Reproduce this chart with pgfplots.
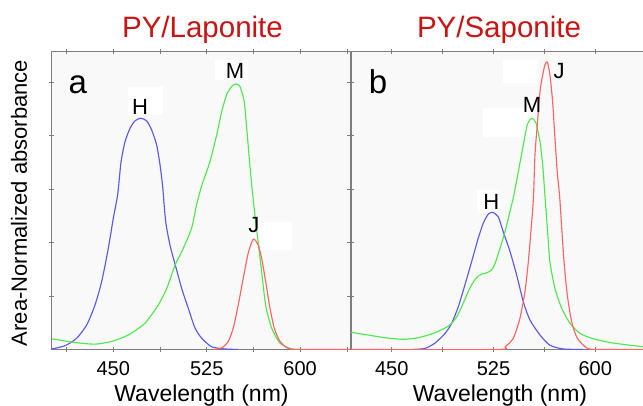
\documentclass[border=0pt]{standalone}
\usepackage{pgfplots}
\pgfplotsset{compat=1.18}
\usepackage{fontspec}
\setmainfont{Liberation Sans}

\definecolor{hcol}{RGB}{90,90,240}
\definecolor{mcol}{RGB}{80,232,80}
\definecolor{jcol}{RGB}{255,100,100}
\definecolor{titlered}{RGB}{200,20,20}
\definecolor{frame}{RGB}{125,125,125}
\definecolor{plotbg}{RGB}{249,249,249}

\pgfplotsset{
  panel/.style={
    scale only axis, anchor=south west, height=298pt,
    ymin=0, ymax=5.566,
    axis background/.style={fill=plotbg},
    axis line style={draw=frame, line width=0.9pt},
    xtick={450,525,600}, minor xtick={412.5,487.5,562.5,637.5},
    ytick={1,2,3,4,5}, yticklabels={},
    tick align=center, major tick length=5pt, minor tick length=5pt,
    every tick/.style={frame, line width=0.6pt},
    tick label style={font=\fontsize{20}{20}\selectfont},
    /pgf/number format/assume math mode=true,
    xticklabel style={yshift=-6pt},
  },
  spec/.style={line width=1.15pt, no markers, line join=round, smooth, tension=0.4},
}
\tikzset{
  tag/.style={font=\fontsize{22}{22}\selectfont, anchor=base, inner sep=0pt},
  letter/.style={font=\fontsize{33}{33}\selectfont, anchor=base west, inner sep=0pt},
}

\begin{document}
\begin{tikzpicture}[x=1pt,y=1pt]
\path[use as bounding box] (0,0) rectangle (643,406);

% ---------------- (a) PY/Laponite ----------------
\begin{axis}[panel, at={(51pt,56.5pt)}, width=299pt, xmin=400, xmax=640]
  \fill[white] (axis cs:461.8,4.38) rectangle (axis cs:489.9,4.91);
  \fill[white] (axis cs:531.6,5.04) rectangle (axis cs:558.1,5.41);
  \fill[white] (axis cs:558.1,1.86) rectangle (axis cs:593.4,2.38);
  % H band
  \addplot[spec, hcol] coordinates {
    (400.6,0.01) (411.2,0.07) (420.6,0.21) (428.7,0.46) (435.3,0.83)
    (440.7,1.27) (446.0,1.89) (450.0,2.45) (453.5,2.89) (456.2,3.50)
    (459.4,3.88) (463.4,4.13) (467.4,4.27) (472.0,4.32) (476.8,4.27)
    (480.8,4.10) (484.8,3.82) (487.5,3.45) (489.6,3.05) (492.0,2.40)
    (495.5,1.95) (500.1,1.55) (504.9,1.14) (510.2,0.77) (515.6,0.40)
    (521.0,0.21) (529.0,0.05) (539.6,0.01) (550.3,0.0)};
  % M band
  \addplot[spec, mcol] coordinates {
    (400.6,0.20) (419.3,0.13) (435.3,0.10) (448.7,0.15) (462.0,0.27)
    (475.4,0.49) (486.1,0.83) (492.9,1.14) (499.5,1.57) (506.2,1.89)
    (512.9,2.27) (516.8,2.70) (521.0,3.06) (527.6,3.51) (533.0,4.01)
    (537.0,4.44) (541.0,4.76) (545.0,4.91) (548.2,4.96) (551.7,4.91)
    (555.1,4.63) (557.1,4.13) (558.9,3.64) (561.1,3.07) (563.7,2.51)
    (565.9,2.08) (569.1,1.45) (572.3,0.83) (577.1,0.40) (583.8,0.12)
    (593.2,0.01) (601.2,0.0)};
  % J band
  \addplot[spec, jcol] coordinates {
    (530.3,0.0) (537.0,0.03) (542.3,0.15) (546.3,0.40) (550.3,0.83)
    (554.3,1.33) (558.3,1.80) (561.6,2.03) (563.2,2.06) (566.4,1.95)
    (569.1,1.70) (572.3,1.27) (575.8,0.77) (579.2,0.40) (583.8,0.15)
    (590.4,0.02) (601.2,0.0) (640,0.0)};
  \node[tag] at (axis cs:471.4,4.38) {H};
  \node[tag] at (axis cs:547.7,5.06) {M};
  \node[tag] at (axis cs:562.9,2.18) {J};
  \node[letter] at (axis cs:414.0,4.79) {a};
\end{axis}

% ---------------- (b) PY/Saponite ----------------
\begin{axis}[panel, at={(351pt,56.5pt)}, width=298.5pt, xmin=420, xmax=640]
  \fill[white] (axis cs:532.0,4.98) rectangle (axis cs:557.9,5.41);
  \fill[white] (axis cs:517.3,3.96) rectangle (axis cs:557.1,4.51);
  \fill[white] (axis cs:513.0,2.57) rectangle (axis cs:530.0,2.98);
  % H band
  \addplot[spec, hcol] coordinates {
    (464.7,0.0) (474.5,0.02) (481.9,0.12) (489.3,0.30) (494.2,0.49)
    (499.1,0.80) (504.0,1.21) (508.9,1.64) (513.8,2.08) (517.5,2.36)
    (521.2,2.53) (524.4,2.56) (528.5,2.48) (532.2,2.20) (537.2,1.83)
    (542.1,1.39) (547.0,0.89) (551.9,0.55) (559.3,0.27) (566.6,0.08)
    (576.4,0.01) (591.2,0.0)};
  % M band
  \addplot[spec, mcol] coordinates {
    (420.0,0.32) (430.3,0.28) (445.1,0.22) (458.5,0.19) (469.6,0.22)
    (480.6,0.30) (489.3,0.40) (494.2,0.49) (497.9,0.61) (501.6,0.80)
    (505.3,1.02) (508.9,1.21) (512.6,1.34) (516.3,1.41) (520.0,1.43)
    (523.7,1.49) (526.1,1.60) (529.8,1.89) (533.5,2.20) (537.2,2.58)
    (540.1,2.89) (543.3,3.32) (547.0,3.82) (549.9,4.20) (553.2,4.32)
    (556.3,4.23) (559.3,3.88) (561.3,3.45) (563.0,2.85) (564.7,2.27)
    (566.6,1.64) (570.3,1.14) (575.3,0.77) (581.4,0.49) (588.8,0.30)
    (598.6,0.20) (610.9,0.13) (625.6,0.08) (640.0,0.04)};
  % J band
  \addplot[spec, jcol] coordinates {
    (420.0,0.0) (527.4,0.0) (533.5,0.05) (539.6,0.21) (544.5,0.58)
    (548.2,1.08) (550.7,1.64) (553.2,2.39) (554.5,2.85) (555.6,3.64)
    (557.3,4.20) (559.3,4.82) (561.3,5.13) (563.0,5.32) (564.7,5.37)
    (566.6,5.13) (568.6,4.63) (570.3,3.95) (572.0,3.32) (573.8,2.85)
    (575.3,2.27) (577.0,1.64) (579.4,1.02) (582.6,0.52) (586.8,0.21)
    (593.7,0.03) (601.1,0.0) (640.0,0.0)};
  \node[tag] at (axis cs:573.3,5.07) {J};
  \node[tag] at (axis cs:553.4,4.42) {M};
  \node[tag] at (axis cs:523.5,2.61) {H};
  \node[letter] at (axis cs:433.0,4.79) {b};
\end{axis}

% titles and axis labels
\node[font=\fontsize{29.5}{29.5}\selectfont, text=titlered, anchor=base] at (202.5,368.7) {PY/Laponite};
\node[font=\fontsize{29.5}{29.5}\selectfont, text=titlered, anchor=base] at (499,368.7) {PY/Saponite};
\node[font=\fontsize{23}{23}\selectfont, anchor=base] at (201.5,4.5) {Wavelength (nm)};
\node[font=\fontsize{23}{23}\selectfont, anchor=base] at (500,4.5) {Wavelength (nm)};
\node[font=\fontsize{22}{22}\selectfont, rotate=90, anchor=base] at (27,203) {Area-Normalized absorbance};
\end{tikzpicture}
\end{document}
